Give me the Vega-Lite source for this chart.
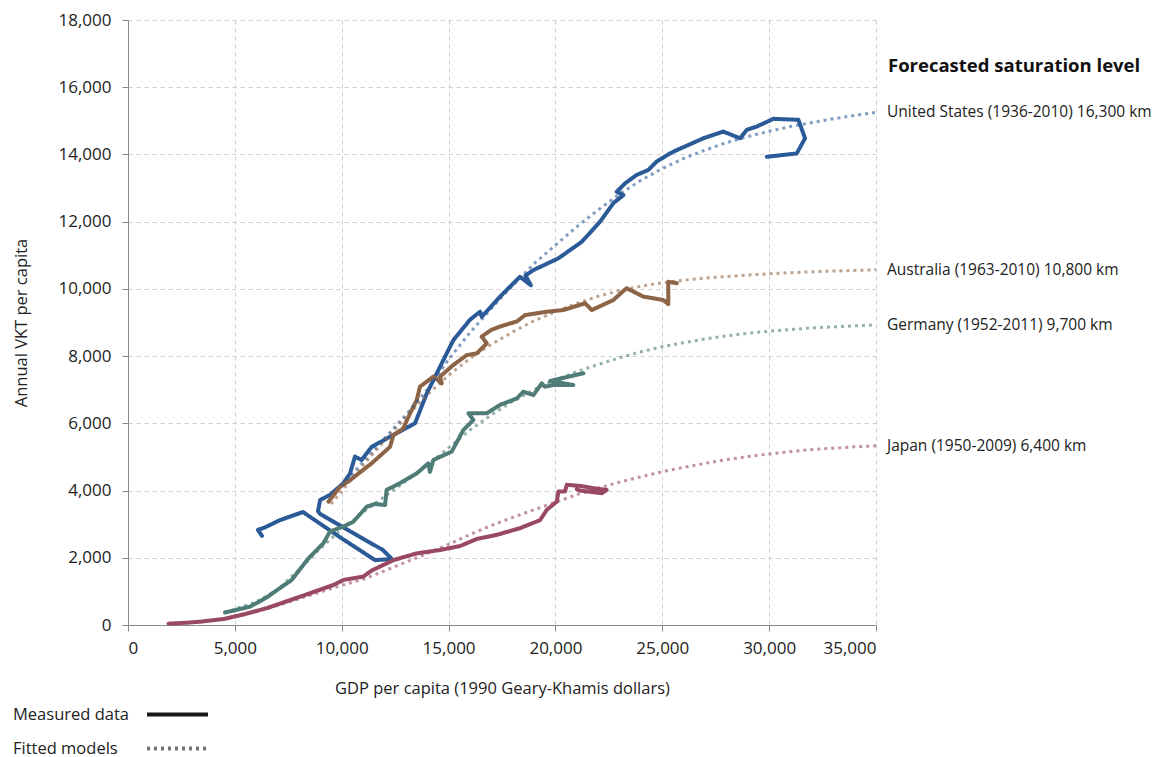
{
  "$schema": "https://vega.github.io/schema/vega-lite/v6.json",
  "width": 748,
  "height": 605,
  "autosize": "none",
  "padding": {"left": 128, "top": 20, "right": 283, "bottom": 132},
  "background": "white",
  "config": {
    "view": {"stroke": null},
    "font": "Open Sans",
    "axis": {
      "labelFont": "Open Sans",
      "titleFont": "Open Sans",
      "labelFontSize": 17,
      "labelColor": "#222",
      "titleFontSize": 16.5,
      "titleFontWeight": "normal",
      "titleColor": "#222",
      "domainColor": "#8a8a8a",
      "tickColor": "#8a8a8a",
      "tickSize": 6,
      "gridColor": "#cfcfcf",
      "gridDash": [4, 4],
      "gridWidth": 1
    }
  },
  "datasets": {
    "series": [
      {"s":"US","t":"Measured data","i":1,"x":6270,"y":2650},
      {"s":"US","t":"Measured data","i":2,"x":6080,"y":2830},
      {"s":"US","t":"Measured data","i":3,"x":6360,"y":2890},
      {"s":"US","t":"Measured data","i":4,"x":7110,"y":3120},
      {"s":"US","t":"Measured data","i":5,"x":8190,"y":3360},
      {"s":"US","t":"Measured data","i":6,"x":9900,"y":2620},
      {"s":"US","t":"Measured data","i":7,"x":11560,"y":1930},
      {"s":"US","t":"Measured data","i":8,"x":12350,"y":1960},
      {"s":"US","t":"Measured data","i":9,"x":11930,"y":2230},
      {"s":"US","t":"Measured data","i":10,"x":8990,"y":3300},
      {"s":"US","t":"Measured data","i":11,"x":8890,"y":3390},
      {"s":"US","t":"Measured data","i":12,"x":8990,"y":3720},
      {"s":"US","t":"Measured data","i":13,"x":9450,"y":3870},
      {"s":"US","t":"Measured data","i":14,"x":10080,"y":4220},
      {"s":"US","t":"Measured data","i":15,"x":10390,"y":4510},
      {"s":"US","t":"Measured data","i":16,"x":10620,"y":5010},
      {"s":"US","t":"Measured data","i":17,"x":10930,"y":4910},
      {"s":"US","t":"Measured data","i":18,"x":11400,"y":5300},
      {"s":"US","t":"Measured data","i":19,"x":12260,"y":5600},
      {"s":"US","t":"Measured data","i":20,"x":13430,"y":6000},
      {"s":"US","t":"Measured data","i":21,"x":13980,"y":6890},
      {"s":"US","t":"Measured data","i":22,"x":14990,"y":8180},
      {"s":"US","t":"Measured data","i":23,"x":15230,"y":8480},
      {"s":"US","t":"Measured data","i":24,"x":16000,"y":9080},
      {"s":"US","t":"Measured data","i":25,"x":16470,"y":9320},
      {"s":"US","t":"Measured data","i":26,"x":16550,"y":9170},
      {"s":"US","t":"Measured data","i":27,"x":17410,"y":9770},
      {"s":"US","t":"Measured data","i":28,"x":18340,"y":10360},
      {"s":"US","t":"Measured data","i":29,"x":18850,"y":10110},
      {"s":"US","t":"Measured data","i":30,"x":18600,"y":10400},
      {"s":"US","t":"Measured data","i":31,"x":18970,"y":10560},
      {"s":"US","t":"Measured data","i":32,"x":20140,"y":10910},
      {"s":"US","t":"Measured data","i":33,"x":21230,"y":11400},
      {"s":"US","t":"Measured data","i":34,"x":22090,"y":12000},
      {"s":"US","t":"Measured data","i":35,"x":22710,"y":12550},
      {"s":"US","t":"Measured data","i":36,"x":23180,"y":12790},
      {"s":"US","t":"Measured data","i":37,"x":22870,"y":12890},
      {"s":"US","t":"Measured data","i":38,"x":23260,"y":13140},
      {"s":"US","t":"Measured data","i":39,"x":23800,"y":13390},
      {"s":"US","t":"Measured data","i":40,"x":24350,"y":13540},
      {"s":"US","t":"Measured data","i":41,"x":24740,"y":13790},
      {"s":"US","t":"Measured data","i":42,"x":25360,"y":14030},
      {"s":"US","t":"Measured data","i":43,"x":25680,"y":14130},
      {"s":"US","t":"Measured data","i":44,"x":26920,"y":14480},
      {"s":"US","t":"Measured data","i":45,"x":27860,"y":14680},
      {"s":"US","t":"Measured data","i":46,"x":28640,"y":14480},
      {"s":"US","t":"Measured data","i":47,"x":28950,"y":14730},
      {"s":"US","t":"Measured data","i":48,"x":29420,"y":14830},
      {"s":"US","t":"Measured data","i":49,"x":30200,"y":15060},
      {"s":"US","t":"Measured data","i":50,"x":31370,"y":15030},
      {"s":"US","t":"Measured data","i":51,"x":31680,"y":14480},
      {"s":"US","t":"Measured data","i":52,"x":31290,"y":14030},
      {"s":"US","t":"Measured data","i":53,"x":29890,"y":13930},

      {"s":"AU","t":"Measured data","i":1,"x":9380,"y":3670},
      {"s":"AU","t":"Measured data","i":2,"x":9920,"y":4110},
      {"s":"AU","t":"Measured data","i":3,"x":10390,"y":4310},
      {"s":"AU","t":"Measured data","i":4,"x":11400,"y":4810},
      {"s":"AU","t":"Measured data","i":5,"x":12260,"y":5300},
      {"s":"AU","t":"Measured data","i":6,"x":12420,"y":5650},
      {"s":"AU","t":"Measured data","i":7,"x":12880,"y":5850},
      {"s":"AU","t":"Measured data","i":8,"x":13200,"y":6300},
      {"s":"AU","t":"Measured data","i":9,"x":13510,"y":6690},
      {"s":"AU","t":"Measured data","i":10,"x":13660,"y":7090},
      {"s":"AU","t":"Measured data","i":11,"x":14290,"y":7390},
      {"s":"AU","t":"Measured data","i":12,"x":14680,"y":7190},
      {"s":"AU","t":"Measured data","i":13,"x":14600,"y":7390},
      {"s":"AU","t":"Measured data","i":14,"x":15230,"y":7740},
      {"s":"AU","t":"Measured data","i":15,"x":15850,"y":8030},
      {"s":"AU","t":"Measured data","i":16,"x":16320,"y":8080},
      {"s":"AU","t":"Measured data","i":17,"x":16790,"y":8380},
      {"s":"AU","t":"Measured data","i":18,"x":16550,"y":8580},
      {"s":"AU","t":"Measured data","i":19,"x":17000,"y":8780},
      {"s":"AU","t":"Measured data","i":20,"x":17410,"y":8880},
      {"s":"AU","t":"Measured data","i":21,"x":18190,"y":9030},
      {"s":"AU","t":"Measured data","i":22,"x":18580,"y":9220},
      {"s":"AU","t":"Measured data","i":23,"x":19590,"y":9320},
      {"s":"AU","t":"Measured data","i":24,"x":20370,"y":9370},
      {"s":"AU","t":"Measured data","i":25,"x":21390,"y":9570},
      {"s":"AU","t":"Measured data","i":26,"x":21700,"y":9370},
      {"s":"AU","t":"Measured data","i":27,"x":22710,"y":9670},
      {"s":"AU","t":"Measured data","i":28,"x":23330,"y":10020},
      {"s":"AU","t":"Measured data","i":29,"x":24110,"y":9770},
      {"s":"AU","t":"Measured data","i":30,"x":25050,"y":9670},
      {"s":"AU","t":"Measured data","i":31,"x":25280,"y":9550},
      {"s":"AU","t":"Measured data","i":32,"x":25280,"y":10210},
      {"s":"AU","t":"Measured data","i":33,"x":25680,"y":10170},

      {"s":"DE","t":"Measured data","i":1,"x":4540,"y":370},
      {"s":"DE","t":"Measured data","i":2,"x":5710,"y":545},
      {"s":"DE","t":"Measured data","i":3,"x":6490,"y":820},
      {"s":"DE","t":"Measured data","i":4,"x":7000,"y":1050},
      {"s":"DE","t":"Measured data","i":5,"x":7660,"y":1340},
      {"s":"DE","t":"Measured data","i":6,"x":8440,"y":1980},
      {"s":"DE","t":"Measured data","i":7,"x":9140,"y":2430},
      {"s":"DE","t":"Measured data","i":8,"x":9450,"y":2780},
      {"s":"DE","t":"Measured data","i":9,"x":10080,"y":2930},
      {"s":"DE","t":"Measured data","i":10,"x":10540,"y":3070},
      {"s":"DE","t":"Measured data","i":11,"x":11170,"y":3520},
      {"s":"DE","t":"Measured data","i":12,"x":11560,"y":3600},
      {"s":"DE","t":"Measured data","i":13,"x":12030,"y":3570},
      {"s":"DE","t":"Measured data","i":14,"x":12100,"y":4020},
      {"s":"DE","t":"Measured data","i":15,"x":12730,"y":4220},
      {"s":"DE","t":"Measured data","i":16,"x":13510,"y":4510},
      {"s":"DE","t":"Measured data","i":17,"x":14050,"y":4810},
      {"s":"DE","t":"Measured data","i":18,"x":14130,"y":4560},
      {"s":"DE","t":"Measured data","i":19,"x":14290,"y":4910},
      {"s":"DE","t":"Measured data","i":20,"x":15150,"y":5160},
      {"s":"DE","t":"Measured data","i":21,"x":15690,"y":5800},
      {"s":"DE","t":"Measured data","i":22,"x":16160,"y":6100},
      {"s":"DE","t":"Measured data","i":23,"x":15930,"y":6300},
      {"s":"DE","t":"Measured data","i":24,"x":16790,"y":6300},
      {"s":"DE","t":"Measured data","i":25,"x":17410,"y":6550},
      {"s":"DE","t":"Measured data","i":26,"x":18190,"y":6740},
      {"s":"DE","t":"Measured data","i":27,"x":18500,"y":6940},
      {"s":"DE","t":"Measured data","i":28,"x":18970,"y":6840},
      {"s":"DE","t":"Measured data","i":29,"x":19360,"y":7190},
      {"s":"DE","t":"Measured data","i":30,"x":19510,"y":7090},
      {"s":"DE","t":"Measured data","i":31,"x":19900,"y":7140},
      {"s":"DE","t":"Measured data","i":32,"x":20840,"y":7140},
      {"s":"DE","t":"Measured data","i":33,"x":19750,"y":7260},
      {"s":"DE","t":"Measured data","i":34,"x":21310,"y":7490},

      {"s":"JP","t":"Measured data","i":1,"x":1900,"y":40},
      {"s":"JP","t":"Measured data","i":2,"x":2800,"y":70},
      {"s":"JP","t":"Measured data","i":3,"x":3400,"y":100},
      {"s":"JP","t":"Measured data","i":4,"x":4500,"y":180},
      {"s":"JP","t":"Measured data","i":5,"x":5500,"y":330},
      {"s":"JP","t":"Measured data","i":6,"x":6490,"y":500},
      {"s":"JP","t":"Measured data","i":7,"x":8050,"y":840},
      {"s":"JP","t":"Measured data","i":8,"x":9610,"y":1190},
      {"s":"JP","t":"Measured data","i":9,"x":10080,"y":1340},
      {"s":"JP","t":"Measured data","i":10,"x":11010,"y":1440},
      {"s":"JP","t":"Measured data","i":11,"x":11400,"y":1620},
      {"s":"JP","t":"Measured data","i":12,"x":12420,"y":1930},
      {"s":"JP","t":"Measured data","i":13,"x":13510,"y":2130},
      {"s":"JP","t":"Measured data","i":14,"x":14600,"y":2230},
      {"s":"JP","t":"Measured data","i":15,"x":15540,"y":2350},
      {"s":"JP","t":"Measured data","i":16,"x":16320,"y":2560},
      {"s":"JP","t":"Measured data","i":17,"x":17250,"y":2680},
      {"s":"JP","t":"Measured data","i":18,"x":18340,"y":2880},
      {"s":"JP","t":"Measured data","i":19,"x":19280,"y":3120},
      {"s":"JP","t":"Measured data","i":20,"x":19590,"y":3420},
      {"s":"JP","t":"Measured data","i":21,"x":20060,"y":3670},
      {"s":"JP","t":"Measured data","i":22,"x":20140,"y":3970},
      {"s":"JP","t":"Measured data","i":23,"x":20450,"y":3970},
      {"s":"JP","t":"Measured data","i":24,"x":20530,"y":4170},
      {"s":"JP","t":"Measured data","i":25,"x":21150,"y":4140},
      {"s":"JP","t":"Measured data","i":26,"x":21780,"y":4070},
      {"s":"JP","t":"Measured data","i":27,"x":22400,"y":4020},
      {"s":"JP","t":"Measured data","i":28,"x":22170,"y":3920},
      {"s":"JP","t":"Measured data","i":29,"x":21150,"y":4000},
      {"s":"JP","t":"Measured data","i":30,"x":21000,"y":4040},

      {"s":"US","t":"Fitted models","i":1,"x":10000,"y":4150},
      {"s":"US","t":"Fitted models","i":2,"x":11000,"y":4850},
      {"s":"US","t":"Fitted models","i":3,"x":12000,"y":5550},
      {"s":"US","t":"Fitted models","i":4,"x":13000,"y":6250},
      {"s":"US","t":"Fitted models","i":5,"x":14000,"y":7000},
      {"s":"US","t":"Fitted models","i":6,"x":15000,"y":7900},
      {"s":"US","t":"Fitted models","i":7,"x":16000,"y":8700},
      {"s":"US","t":"Fitted models","i":8,"x":17000,"y":9420},
      {"s":"US","t":"Fitted models","i":9,"x":18000,"y":10100},
      {"s":"US","t":"Fitted models","i":10,"x":19000,"y":10750},
      {"s":"US","t":"Fitted models","i":11,"x":20000,"y":11300},
      {"s":"US","t":"Fitted models","i":12,"x":21000,"y":11850},
      {"s":"US","t":"Fitted models","i":13,"x":22000,"y":12350},
      {"s":"US","t":"Fitted models","i":14,"x":23000,"y":12820},
      {"s":"US","t":"Fitted models","i":15,"x":24000,"y":13230},
      {"s":"US","t":"Fitted models","i":16,"x":25000,"y":13580},
      {"s":"US","t":"Fitted models","i":17,"x":26000,"y":13880},
      {"s":"US","t":"Fitted models","i":18,"x":27000,"y":14130},
      {"s":"US","t":"Fitted models","i":19,"x":28000,"y":14350},
      {"s":"US","t":"Fitted models","i":20,"x":29000,"y":14530},
      {"s":"US","t":"Fitted models","i":21,"x":30000,"y":14690},
      {"s":"US","t":"Fitted models","i":22,"x":31000,"y":14830},
      {"s":"US","t":"Fitted models","i":23,"x":32000,"y":14950},
      {"s":"US","t":"Fitted models","i":24,"x":33000,"y":15060},
      {"s":"US","t":"Fitted models","i":25,"x":34000,"y":15160},
      {"s":"US","t":"Fitted models","i":26,"x":35000,"y":15250},

      {"s":"AU","t":"Fitted models","i":1,"x":9500,"y":3600},
      {"s":"AU","t":"Fitted models","i":2,"x":10000,"y":3980},
      {"s":"AU","t":"Fitted models","i":3,"x":11000,"y":4750},
      {"s":"AU","t":"Fitted models","i":4,"x":12000,"y":5480},
      {"s":"AU","t":"Fitted models","i":5,"x":13000,"y":6180},
      {"s":"AU","t":"Fitted models","i":6,"x":14000,"y":6850},
      {"s":"AU","t":"Fitted models","i":7,"x":15000,"y":7430},
      {"s":"AU","t":"Fitted models","i":8,"x":16000,"y":7930},
      {"s":"AU","t":"Fitted models","i":9,"x":17000,"y":8350},
      {"s":"AU","t":"Fitted models","i":10,"x":18000,"y":8720},
      {"s":"AU","t":"Fitted models","i":11,"x":19000,"y":9050},
      {"s":"AU","t":"Fitted models","i":12,"x":20000,"y":9320},
      {"s":"AU","t":"Fitted models","i":13,"x":21000,"y":9570},
      {"s":"AU","t":"Fitted models","i":14,"x":22000,"y":9780},
      {"s":"AU","t":"Fitted models","i":15,"x":23000,"y":9950},
      {"s":"AU","t":"Fitted models","i":16,"x":24000,"y":10080},
      {"s":"AU","t":"Fitted models","i":17,"x":25000,"y":10180},
      {"s":"AU","t":"Fitted models","i":18,"x":26000,"y":10260},
      {"s":"AU","t":"Fitted models","i":19,"x":27000,"y":10320},
      {"s":"AU","t":"Fitted models","i":20,"x":28000,"y":10370},
      {"s":"AU","t":"Fitted models","i":21,"x":29000,"y":10410},
      {"s":"AU","t":"Fitted models","i":22,"x":30000,"y":10450},
      {"s":"AU","t":"Fitted models","i":23,"x":31000,"y":10480},
      {"s":"AU","t":"Fitted models","i":24,"x":32000,"y":10510},
      {"s":"AU","t":"Fitted models","i":25,"x":33000,"y":10530},
      {"s":"AU","t":"Fitted models","i":26,"x":34000,"y":10550},
      {"s":"AU","t":"Fitted models","i":27,"x":35000,"y":10570},

      {"s":"DE","t":"Fitted models","i":1,"x":4500,"y":380},
      {"s":"DE","t":"Fitted models","i":2,"x":5000,"y":470},
      {"s":"DE","t":"Fitted models","i":3,"x":6000,"y":690},
      {"s":"DE","t":"Fitted models","i":4,"x":7000,"y":1050},
      {"s":"DE","t":"Fitted models","i":5,"x":8000,"y":1650},
      {"s":"DE","t":"Fitted models","i":6,"x":9000,"y":2280},
      {"s":"DE","t":"Fitted models","i":7,"x":10000,"y":2850},
      {"s":"DE","t":"Fitted models","i":8,"x":11000,"y":3350},
      {"s":"DE","t":"Fitted models","i":9,"x":12000,"y":3820},
      {"s":"DE","t":"Fitted models","i":10,"x":13000,"y":4280},
      {"s":"DE","t":"Fitted models","i":11,"x":14000,"y":4750},
      {"s":"DE","t":"Fitted models","i":12,"x":15000,"y":5270},
      {"s":"DE","t":"Fitted models","i":13,"x":16000,"y":5800},
      {"s":"DE","t":"Fitted models","i":14,"x":17000,"y":6250},
      {"s":"DE","t":"Fitted models","i":15,"x":18000,"y":6650},
      {"s":"DE","t":"Fitted models","i":16,"x":19000,"y":7000},
      {"s":"DE","t":"Fitted models","i":17,"x":20000,"y":7290},
      {"s":"DE","t":"Fitted models","i":18,"x":21000,"y":7540},
      {"s":"DE","t":"Fitted models","i":19,"x":22000,"y":7750},
      {"s":"DE","t":"Fitted models","i":20,"x":23000,"y":7950},
      {"s":"DE","t":"Fitted models","i":21,"x":24000,"y":8130},
      {"s":"DE","t":"Fitted models","i":22,"x":25000,"y":8280},
      {"s":"DE","t":"Fitted models","i":23,"x":26000,"y":8400},
      {"s":"DE","t":"Fitted models","i":24,"x":27000,"y":8510},
      {"s":"DE","t":"Fitted models","i":25,"x":28000,"y":8600},
      {"s":"DE","t":"Fitted models","i":26,"x":29000,"y":8680},
      {"s":"DE","t":"Fitted models","i":27,"x":30000,"y":8740},
      {"s":"DE","t":"Fitted models","i":28,"x":31000,"y":8790},
      {"s":"DE","t":"Fitted models","i":29,"x":32000,"y":8840},
      {"s":"DE","t":"Fitted models","i":30,"x":33000,"y":8870},
      {"s":"DE","t":"Fitted models","i":31,"x":34000,"y":8900},
      {"s":"DE","t":"Fitted models","i":32,"x":35000,"y":8930},

      {"s":"JP","t":"Fitted models","i":1,"x":5000,"y":230},
      {"s":"JP","t":"Fitted models","i":2,"x":6000,"y":400},
      {"s":"JP","t":"Fitted models","i":3,"x":7000,"y":580},
      {"s":"JP","t":"Fitted models","i":4,"x":8000,"y":780},
      {"s":"JP","t":"Fitted models","i":5,"x":9000,"y":980},
      {"s":"JP","t":"Fitted models","i":6,"x":10000,"y":1180},
      {"s":"JP","t":"Fitted models","i":7,"x":11000,"y":1360},
      {"s":"JP","t":"Fitted models","i":8,"x":12000,"y":1610},
      {"s":"JP","t":"Fitted models","i":9,"x":13000,"y":1870},
      {"s":"JP","t":"Fitted models","i":10,"x":14000,"y":2130},
      {"s":"JP","t":"Fitted models","i":11,"x":15000,"y":2400},
      {"s":"JP","t":"Fitted models","i":12,"x":16000,"y":2690},
      {"s":"JP","t":"Fitted models","i":13,"x":17000,"y":2960},
      {"s":"JP","t":"Fitted models","i":14,"x":18000,"y":3200},
      {"s":"JP","t":"Fitted models","i":15,"x":19000,"y":3430},
      {"s":"JP","t":"Fitted models","i":16,"x":20000,"y":3650},
      {"s":"JP","t":"Fitted models","i":17,"x":21000,"y":3880},
      {"s":"JP","t":"Fitted models","i":18,"x":22000,"y":4070},
      {"s":"JP","t":"Fitted models","i":19,"x":23000,"y":4250},
      {"s":"JP","t":"Fitted models","i":20,"x":24000,"y":4410},
      {"s":"JP","t":"Fitted models","i":21,"x":25000,"y":4560},
      {"s":"JP","t":"Fitted models","i":22,"x":26000,"y":4690},
      {"s":"JP","t":"Fitted models","i":23,"x":27000,"y":4810},
      {"s":"JP","t":"Fitted models","i":24,"x":28000,"y":4920},
      {"s":"JP","t":"Fitted models","i":25,"x":29000,"y":5010},
      {"s":"JP","t":"Fitted models","i":26,"x":30000,"y":5090},
      {"s":"JP","t":"Fitted models","i":27,"x":31000,"y":5160},
      {"s":"JP","t":"Fitted models","i":28,"x":32000,"y":5220},
      {"s":"JP","t":"Fitted models","i":29,"x":33000,"y":5260},
      {"s":"JP","t":"Fitted models","i":30,"x":34000,"y":5300},
      {"s":"JP","t":"Fitted models","i":31,"x":35000,"y":5330}
    ],
    "labels": [
      {"lab":"United States (1936-2010) 16,300 km","x":35000,"y":15250},
      {"lab":"Australia (1963-2010) 10,800 km","x":35000,"y":10570},
      {"lab":"Germany (1952-2011) 9,700 km","x":35000,"y":8930},
      {"lab":"Japan (1950-2009) 6,400 km","x":35000,"y":5330}
    ],
    "heading": [
      {"lab":"Forecasted saturation level","x":35000,"y":16630}
    ]
  },
  "encoding": {
    "x": {
      "field": "x", "type": "quantitative",
      "scale": {"domain": [0, 35000], "nice": false},
      "axis": {
        "title": "GDP per capita (1990 Geary-Khamis dollars)",
        "values": [0, 5000, 10000, 15000, 20000, 25000, 30000, 35000],
        "format": ",.0f",
        "labelPadding": 9,
        "titlePadding": 24
      }
    },
    "y": {
      "field": "y", "type": "quantitative",
      "scale": {"domain": [0, 18000], "nice": false},
      "axis": {
        "title": "Annual VKT per capita",
        "values": [0, 2000, 4000, 6000, 8000, 10000, 12000, 14000, 16000, 18000],
        "format": ",.0f",
        "labelPadding": 11,
        "titlePadding": 28
      }
    }
  },
  "layer": [
    {
      "data": {"name": "series"},
      "transform": [{"filter": "datum.t == 'Measured data'"}],
      "mark": {"type": "line", "strokeWidth": 4, "strokeJoin": "round", "strokeCap": "round"},
      "encoding": {
        "color": {"field": "s", "type": "nominal", "scale": {"domain": ["US", "AU", "DE", "JP"], "range": ["#2b5a98", "#8d6546", "#4f7c77", "#9a4962"]}, "legend": null},
        "strokeDash": {"field": "t", "type": "nominal", "scale": {"domain": ["Measured data", "Fitted models"], "range": [[1, 0], [3, 4]]},
          "legend": {"title": null, "values": ["Measured data"], "orient": "none", "legendX": 17, "legendY": 662, "symbolType": "stroke", "symbolSize": 3721, "symbolStrokeWidth": 4, "symbolStrokeColor": "#1a1a1a", "labelAlign": "left", "labelOffset": -197, "labelFontSize": 16.5, "labelFont": "Open Sans", "labelColor": "#222", "padding": 0, "labelLimit": 300, "direction": "vertical"}},
        "opacity": {"field": "t", "type": "nominal", "scale": {"domain": ["Fitted models", "Measured data"], "range": [0.6, 1]},
          "legend": {"title": null, "values": ["Fitted models"], "orient": "none", "legendX": 17, "legendY": 696, "symbolType": "stroke", "symbolSize": 3721, "symbolStrokeWidth": 4, "symbolDash": [3, 4], "symbolStrokeColor": "#1a1a1a", "labelAlign": "left", "labelOffset": -197, "labelFontSize": 16.5, "labelFont": "Open Sans", "labelColor": "#222", "padding": 0, "labelLimit": 300, "direction": "vertical"}},
        "order": {"field": "i", "type": "quantitative"}
      }
    },
    {
      "data": {"name": "series"},
      "transform": [{"filter": "datum.t == 'Fitted models'"}],
      "mark": {"type": "line", "strokeWidth": 3},
      "encoding": {
        "color": {"field": "s", "type": "nominal", "legend": null},
        "strokeDash": {"field": "t", "type": "nominal"},
        "opacity": {"field": "t", "type": "nominal"},
        "order": {"field": "i", "type": "quantitative"}
      }
    },
    {
      "data": {"name": "labels"},
      "mark": {"type": "text", "align": "left", "baseline": "middle", "dx": 11, "fontSize": 15.5, "font": "Open Sans", "color": "#222"},
      "encoding": {"text": {"field": "lab"}}
    },
    {
      "data": {"name": "heading"},
      "mark": {"type": "text", "align": "left", "baseline": "middle", "dx": 12, "fontSize": 18.5, "fontWeight": "bold", "font": "Open Sans", "color": "#111"},
      "encoding": {"text": {"field": "lab"}}
    }
  ]
}
